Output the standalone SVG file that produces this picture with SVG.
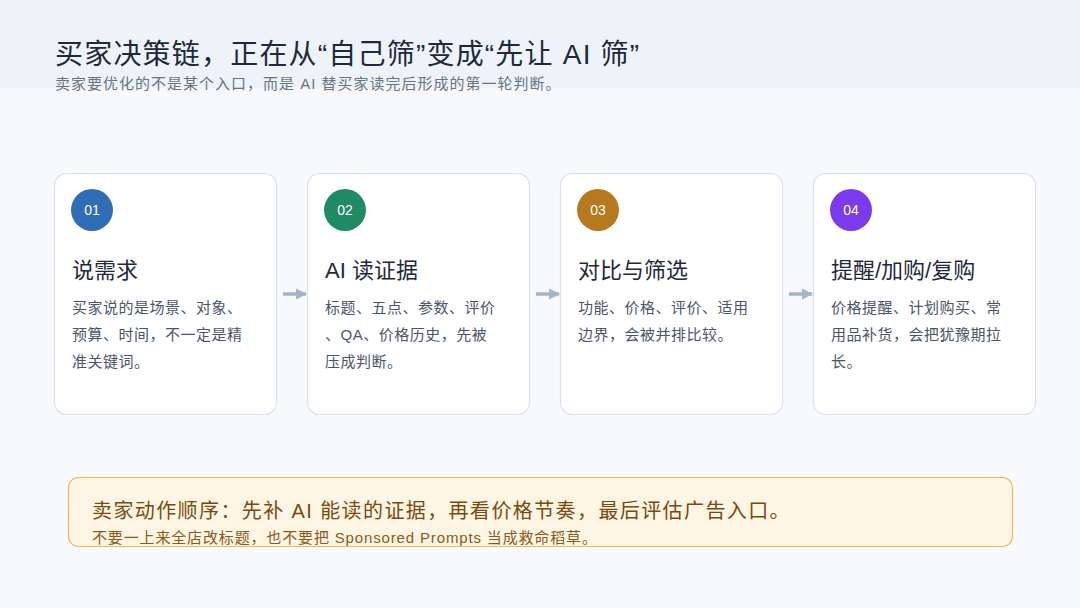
<svg xmlns="http://www.w3.org/2000/svg" width="1080" height="608" viewBox="0 0 1080 608">
<defs>
<style>
text{font-family:"Liberation Sans","Noto Sans CJK SC",sans-serif}
.card{fill:#FFFFFF;stroke:#D9E2EE;stroke-width:1.2}
.num{fill:#FFFFFF;font-size:14px;text-anchor:middle}
.ct{fill:#1E293B;font-size:22px}
.cb{fill:#4A5568;font-size:15px;letter-spacing:0.5px}
.arrow{stroke:#A3B5CA;stroke-width:3.5;fill:none}
</style>
<marker id="ah" viewBox="0 0 10 10" refX="9" refY="5" markerWidth="3.2" markerHeight="3.6" orient="auto" markerUnits="strokeWidth">
<path d="M0,0 L10,5 L0,10 Z" fill="#A3B5CA"/>
</marker>
</defs>
<rect x="0" y="0" width="1080" height="608" fill="#F7F9FC"/>
<rect x="0" y="0" width="1080" height="88" fill="#EEF3FA"/>
<g id="header">
<text x="55" y="64" fill="#1E293B" font-size="28" letter-spacing="1.2">买家决策链，正在从“自己筛”变成“先让 AI 筛”</text>
<text x="55" y="89" fill="#6B7280" font-size="15" letter-spacing="1">卖家要优化的不是某个入口，而是 AI 替买家读完后形成的第一轮判断。</text>
</g>
<g id="connectors">
<line class="arrow" x1="283" y1="294" x2="306" y2="294" marker-end="url(#ah)"/>
<line class="arrow" x1="536" y1="294" x2="559" y2="294" marker-end="url(#ah)"/>
<line class="arrow" x1="789" y1="294" x2="812" y2="294" marker-end="url(#ah)"/>
</g>
<g id="card1">
<rect class="card" x="54.5" y="173.5" width="222" height="241" rx="12"/>
<circle cx="92" cy="210" r="21" fill="#2F6DB5"/>
<text class="num" x="92" y="215">01</text>
<text class="ct" x="72" y="278">说需求</text>
<text class="cb" x="72" y="313">买家说的是场景、对象、</text>
<text class="cb" x="72" y="340">预算、时间，不一定是精</text>
<text class="cb" x="72" y="367">准关键词。</text>
</g>
<g id="card2">
<rect class="card" x="307.5" y="173.5" width="222" height="241" rx="12"/>
<circle cx="345" cy="210" r="21" fill="#1F8A64"/>
<text class="num" x="345" y="215">02</text>
<text class="ct" x="325" y="278">AI 读证据</text>
<text class="cb" x="325" y="313">标题、五点、参数、评价</text>
<text class="cb" x="325" y="340">、QA、价格历史，先被</text>
<text class="cb" x="325" y="367">压成判断。</text>
</g>
<g id="card3">
<rect class="card" x="560.5" y="173.5" width="222" height="241" rx="12"/>
<circle cx="598" cy="210" r="21" fill="#B7791F"/>
<text class="num" x="598" y="215">03</text>
<text class="ct" x="578" y="278">对比与筛选</text>
<text class="cb" x="578" y="313">功能、价格、评价、适用</text>
<text class="cb" x="578" y="340">边界，会被并排比较。</text>
</g>
<g id="card4">
<rect class="card" x="813.5" y="173.5" width="222" height="241" rx="12"/>
<circle cx="851" cy="210" r="21" fill="#7C3AED"/>
<text class="num" x="851" y="215">04</text>
<text class="ct" x="831" y="278">提醒/加购/复购</text>
<text class="cb" x="831" y="313">价格提醒、计划购买、常</text>
<text class="cb" x="831" y="340">用品补货，会把犹豫期拉</text>
<text class="cb" x="831" y="367">长。</text>
</g>
<g id="note">
<rect x="68.5" y="477.5" width="944" height="69" rx="10" fill="#FEF5E4" stroke="#EDB94F" stroke-width="1.2"/>
<text x="92" y="518" fill="#7A4A0C" font-size="20" letter-spacing="1.4">卖家动作顺序：先补 AI 能读的证据，再看价格节奏，最后评估广告入口。</text>
<text x="92" y="543" fill="#8A5A1A" font-size="15" letter-spacing="0.85">不要一上来全店改标题，也不要把 Sponsored Prompts 当成救命稻草。</text>
</g>
</svg>
